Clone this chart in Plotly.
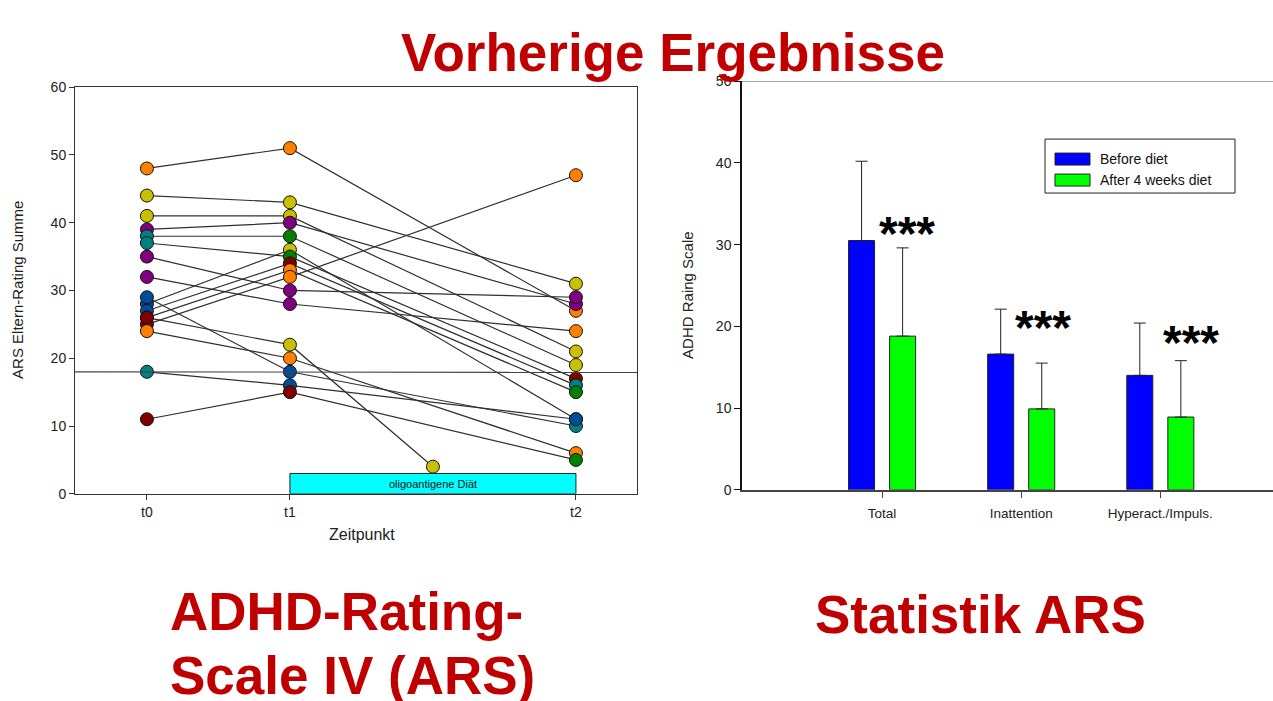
import plotly.graph_objects as go

W, H = 1273, 701

# ---------------- Left chart data (ARS individual trajectories) ----------------
time_points = [0, 1, 3]
time_labels = ["t0", "t1", "t2"]
t0_vals = [48, 44, 41, 39, 38, 28, 37, 27, 26, 25, 35, 32, 26, 24, 29, 18, 11]
t1_vals = [51, 43, 41, 40, 38, 36, 35, 34, 33, 32, 30, 28, 22, 20, 18, 16, 15]
t2_vals = [27, 31, 21, 28, 19, 11, 17, 16, 15, 47, 29, 24, 4, 6, 10, 11, 5]
t2_time = [3, 3, 3, 3, 3, 3, 3, 3, 3, 3, 3, 3, 2, 3, 3, 3, 3]
threshold = 18
diet_period = [1, 3]
diet_label = "oligoantigene Diät"

# colour codes of the symbols
t0_cols = ["O", "Y", "Y", "P", "T", "N", "T", "N", "R", "R", "P", "P", "R", "O", "N", "T", "R"]
t1_cols = ["O", "Y", "Y", "P", "G", "Y", "G", "R", "O", "O", "P", "P", "Y", "O", "N", "N", "R"]
t2_cols = ["O", "Y", "Y", "P", "Y", "N", "R", "T", "G", "O", "P", "O", "Y", "O", "T", "N", "G"]

# ---------------- Right chart data (statistics) ----------------
categories = ["Total", "Inattention", "Hyperact./Impuls."]
series_names = ["Before diet", "After 4 weeks diet"]
before_mean = [30.5, 16.6, 14.0]
before_sd = [9.7, 5.5, 6.4]
after_mean = [18.8, 9.9, 8.9]
after_sd = [10.8, 5.6, 6.9]
significance = ["***", "***", "***"]

# ---------------- styles ----------------
palette = {"O": "#FF8000", "Y": "#C8C000", "P": "#800080", "T": "#008080",
           "G": "#008000", "R": "#800000", "N": "#004C99"}
RED = "#C00000"
FONT = "Liberation Sans, Arial, sans-serif"
star_dx = [0.18, 0.16, 0.22]
star_y = [31.4, 19.8, 18.0]

def px_x(p):
    return p / W

def px_y(p):
    # screen pixel -> paper fraction (page shows the figure shifted/scaled vertically)
    return 1 - ((p - 7.8) / 0.978) / H

fig = go.Figure()

# trajectories
lx, ly = [], []
for a, b, c, tc in zip(t0_vals, t1_vals, t2_vals, t2_time):
    lx += [time_points[0], time_points[1], tc, None]
    ly += [a, b, c, None]
fig.add_trace(go.Scatter(x=lx, y=ly, mode="lines", line=dict(color="#303030", width=1.2),
                         hoverinfo="skip", showlegend=False, xaxis="x", yaxis="y"))

# markers
for xs, ys, cs in [([time_points[0]] * len(t0_vals), t0_vals, t0_cols),
                   ([time_points[1]] * len(t1_vals), t1_vals, t1_cols),
                   (t2_time, t2_vals, t2_cols)]:
    fig.add_trace(go.Scatter(x=xs, y=ys, mode="markers",
                             marker=dict(size=13, color=[palette[c] for c in cs],
                                         line=dict(color="#111111", width=1)),
                             showlegend=False, xaxis="x", yaxis="y"))

# threshold line
fig.add_shape(type="line", xref="x domain", yref="y", x0=0, x1=1, y0=threshold, y1=threshold - 0.1,
              line=dict(color="#444444", width=1.2))
# diet box
fig.add_shape(type="rect", xref="x", yref="y", x0=diet_period[0], x1=diet_period[1], y0=0, y1=3,
              fillcolor="#00FFFF", line=dict(color="#222222", width=1))
fig.add_annotation(x=sum(diet_period) / 2, y=1.5, xref="x", yref="y", text=diet_label,
                   showarrow=False, yanchor="middle", font=dict(size=11, color="#111111", family=FONT))

# ---------------- bars ----------------
bar_cols = ["#0000FF", "#00FF00"]
for name, mean, sd, col in [(series_names[0], before_mean, before_sd, bar_cols[0]),
                            (series_names[1], after_mean, after_sd, bar_cols[1])]:
    fig.add_trace(go.Bar(x=categories, y=mean, name=name,
                         marker=dict(color=col, line=dict(color="#222222", width=1)),
                         error_y=dict(type="data", array=sd, arrayminus=[0] * len(sd), symmetric=False,
                                      color="#222222", thickness=1, width=6),
                         showlegend=False, xaxis="x2", yaxis="y2"))

# significance stars
for i, s in enumerate(significance):
    fig.add_annotation(x=i + star_dx[i], y=star_y[i], xref="x2", yref="y2", text="<b>" + s + "</b>",
                       showarrow=False, yanchor="middle",
                       font=dict(size=48, color="#000000", family=FONT))

# manual legend
leg_x0, leg_y0, leg_x1, leg_y1 = 1045, 139, 1235, 193
fig.add_shape(type="rect", xref="paper", yref="paper", x0=px_x(leg_x0), x1=px_x(leg_x1),
              y0=px_y(leg_y1), y1=px_y(leg_y0), line=dict(color="#222222", width=1), fillcolor="white")
for k, (name, col) in enumerate(zip(series_names, bar_cols)):
    cy = 159 + 21 * k
    fig.add_shape(type="rect", xref="paper", yref="paper", x0=px_x(1055), x1=px_x(1090),
                  y0=px_y(cy + 6), y1=px_y(cy - 6), fillcolor=col, line=dict(color="#222222", width=1))
    fig.add_annotation(x=px_x(1098), y=px_y(cy), xref="paper", yref="paper", text=name, showarrow=False,
                       xanchor="left", yanchor="middle", font=dict(size=14, color="#111111", family=FONT))

# top grey line of right chart
fig.add_shape(type="line", xref="x2 domain", yref="y2", x0=0, x1=1, y0=50, y1=50,
              line=dict(color="#888888", width=1.5))

# ---------------- axis titles and headings ----------------
def label(x, y, text, size, color="#222222", angle=0, xanchor="center"):
    fig.add_annotation(x=px_x(x), y=px_y(y), xref="paper", yref="paper", text=text, textangle=angle,
                       showarrow=False, xanchor=xanchor, yanchor="middle",
                       font=dict(size=size, color=color, family=FONT))

label(18, 290, "ARS Eltern-Rating Summe", 15, angle=-90)
label(362, 535, "Zeitpunkt", 16)
label(688, 295, "ADHD Raing Scale", 15, angle=-90)
label(673, 52, "<b>Vorherige Ergebnisse</b>", 53, color=RED)
label(168, 612, "<b>ADHD-Rating-</b>", 53, color=RED, xanchor="left")
label(168, 676, "<b>Scale IV (ARS)</b>", 53, color=RED, xanchor="left")
label(980, 615, "<b>Statistik ARS</b>", 53, color=RED)

tickfont = dict(size=14, color="#222222", family=FONT)
fig.update_layout(
    width=W, height=H, margin=dict(l=0, r=0, t=0, b=0),
    paper_bgcolor="white", plot_bgcolor="white",
    barmode="group", bargap=0.41, bargroupgap=0.366,
    xaxis=dict(domain=[px_x(75), px_x(637)], range=[-0.503, 3.427], tickvals=time_points,
               ticktext=time_labels, showline=True, mirror=True, linecolor="#333333", linewidth=1,
               ticks="outside", ticklen=5, tickcolor="#333333", showgrid=False, zeroline=False,
               tickfont=tickfont),
    yaxis=dict(domain=[px_y(494), px_y(87)], range=[0, 60], dtick=10, showline=True, mirror=True,
               linecolor="#333333", linewidth=1, ticks="outside", ticklen=5, tickcolor="#333333",
               showgrid=False, zeroline=False, tickfont=tickfont),
    xaxis2=dict(domain=[px_x(742), 1.0], range=[-1.007, 2.81], type="category", showline=True,
                linecolor="#444444", linewidth=1.5, ticks="outside", ticklen=6, tickcolor="#444444",
                showgrid=False, zeroline=False, anchor="y2", ticklabelstandoff=4,
                tickfont=dict(size=13.5, color="#222222", family=FONT)),
    yaxis2=dict(domain=[px_y(490), px_y(81)], range=[0, 50], dtick=10, showline=True,
                linecolor="#111111", linewidth=1.5, ticks="outside", ticklen=6, tickcolor="#111111",
                showgrid=False, zeroline=False, anchor="x2", tickfont=tickfont),
)

fig.write_html("out.html")
